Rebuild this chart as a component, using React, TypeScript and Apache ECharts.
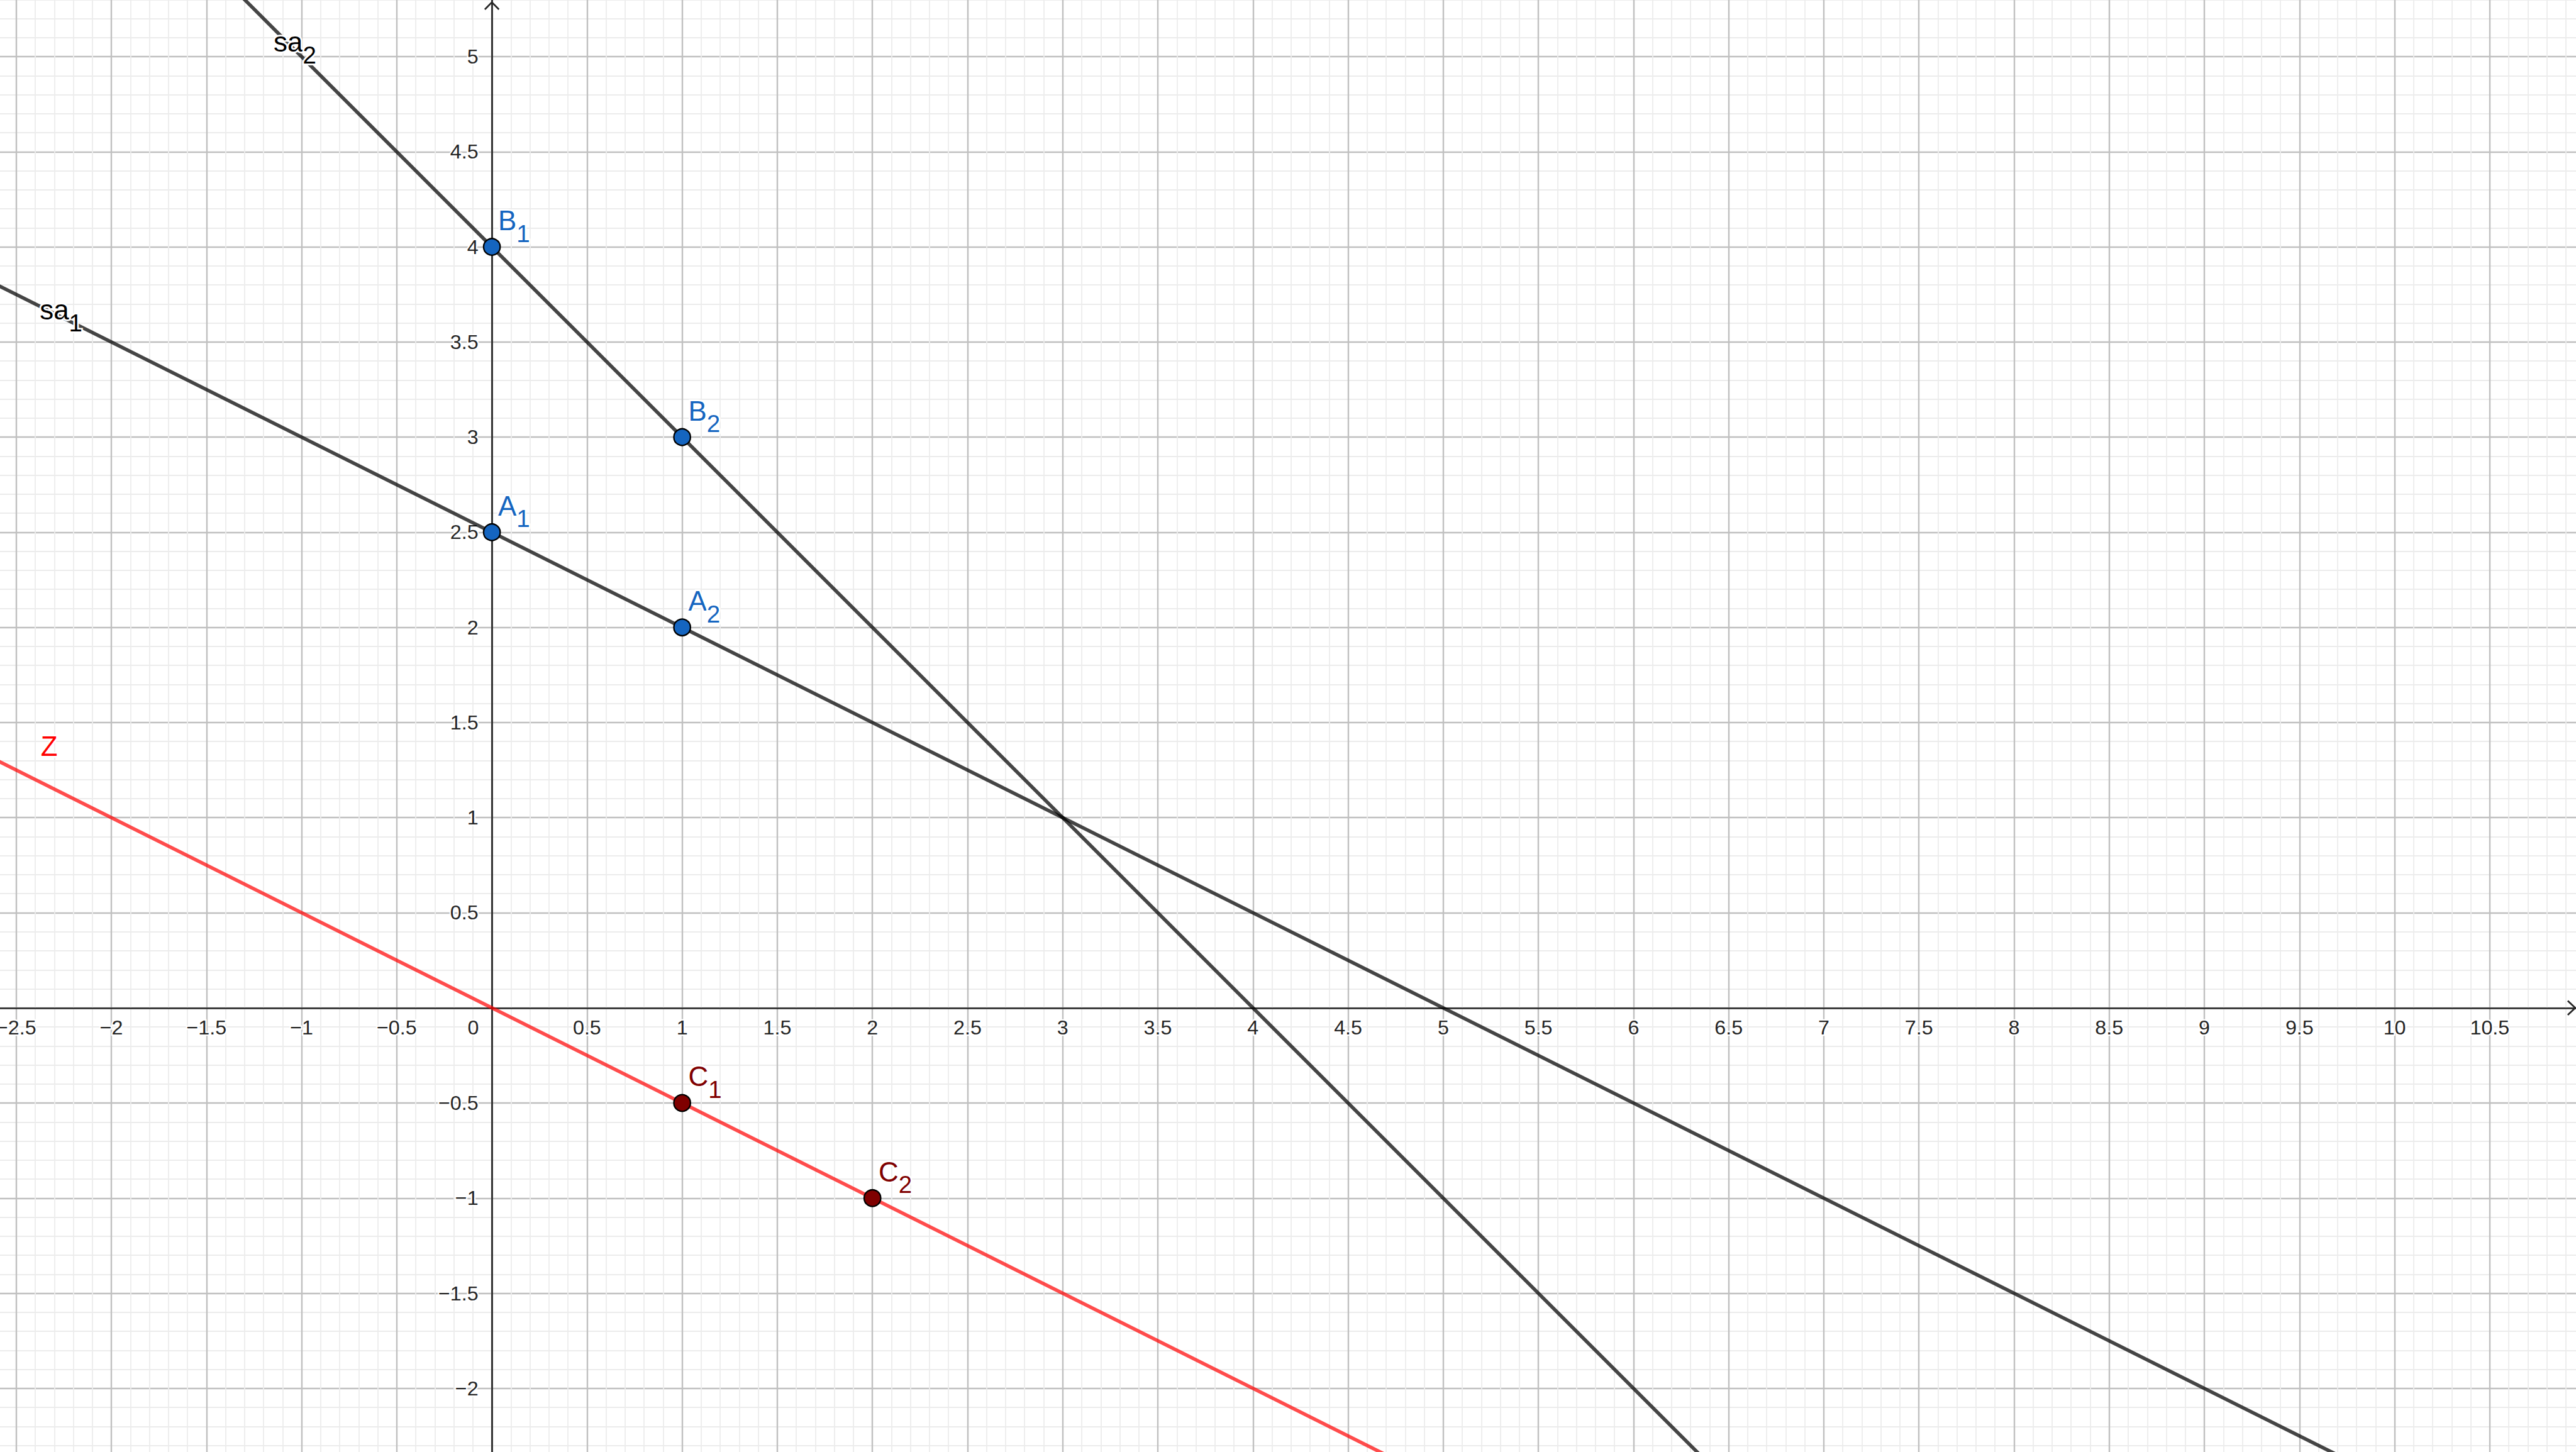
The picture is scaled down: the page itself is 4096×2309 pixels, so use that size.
import React, { useEffect, useRef } from 'react';
import * as echarts from 'echarts';

const W = 4096;
const H = 2309;

// axis extents (data units) and grid steps
const xRange = [-3, 11.5];
const yRange = [-2.5, 5.5];
const majorStep = 0.5;
const minorSplits = 5;
// range of tick labels that are shown
const xLabelRange = [-2.5, 10.5];
const yLabelRange = [-2, 5];

// lines (two end points each, in data units)
const lineSa1 = [[-3, 4], [10, -2.5]];
const lineSa2 = [[-1.5, 5.5], [6.5, -2.5]];
const lineZ = [[-3, 1.5], [5, -2.5]];

// points
const bluePoints = [[0, 2.5], [1, 2], [0, 4], [1, 3]];
const bluePointNames = [['A', '1'], ['A', '2'], ['B', '1'], ['B', '2']];
const redPoints = [[1, -0.5], [2, -1]];
const redPointNames = [['C', '1'], ['C', '2']];

// line name labels: [main, sub], anchor [x, baseline y]
const lineLabelText = [['sa', '1'], ['sa', '2'], ['Z', '']];
const lineLabelAnchor = [[-2.376, 3.619], [-1.147, 5.026], [-2.371, 1.3245]];

export default function App() {
  const ref = useRef<HTMLDivElement>(null);
  useEffect(() => {
    const el = ref.current!;
    const chart = echarts.init(el, null, { renderer: 'svg', width: W, height: H });
    const S = 0.8959;
    const FONT = '"Liberation Sans", Arial, sans-serif';
    const axisColor = '#252525';
    const U = 337.7 * S;
    const OX = 873 * S;
    const OY = 1789 * S;
    const fmt = (v: number) => String(Math.round(v * 100) / 100).replace('-', '\u2212');
    const labelFs = 36 * S;
    const inRange = (v: number, r: number[]) => v >= r[0] - 1e-9 && v <= r[1] + 1e-9;

    const option: any = {
      animation: false,
      backgroundColor: '#ffffff',
      grid: {
        left: OX + xRange[0] * U,
        right: W - (OX + xRange[1] * U),
        top: OY - yRange[1] * U,
        bottom: H - (OY - yRange[0] * U),
        containLabel: false,
        outerBoundsMode: 'none',
      },
      xAxis: {
        type: 'value',
        min: xRange[0],
        max: xRange[1],
        interval: majorStep,
        position: 'bottom',
        offset: yRange[0] * U,
        axisLine: { show: true, onZero: false, lineStyle: { color: axisColor, width: 3 * S } },
        axisTick: { show: false },
        minorTick: { show: false, splitNumber: minorSplits },
        splitLine: { show: true, lineStyle: { color: '#c0c0c0', width: 2.7 * S } },
        minorSplitLine: { show: true, lineStyle: { color: '#ececec', width: 2 * S } },
        axisLabel: {
          show: true,
          margin: 15,
          fontSize: labelFs,
          fontFamily: FONT,
          color: axisColor,
          textBorderColor: '#ffffff',
          textBorderWidth: 5 * S,
          hideOverlap: false,
          formatter: (v: number) => (!inRange(v, xLabelRange) ? '' : v === 0 ? '{z|0}' : fmt(v)),
          rich: {
            z: {
              fontSize: labelFs,
              fontFamily: FONT,
              color: axisColor,
              textBorderColor: '#ffffff',
              textBorderWidth: 5 * S,
              padding: [0, 66 * S, 0, 0],
            },
          },
        },
      },
      yAxis: {
        type: 'value',
        min: yRange[0],
        max: yRange[1],
        interval: majorStep,
        position: 'left',
        offset: xRange[0] * U,
        axisLine: { show: true, onZero: false, lineStyle: { color: axisColor, width: 3 * S } },
        axisTick: { show: false },
        minorTick: { show: false, splitNumber: minorSplits },
        splitLine: { show: true, lineStyle: { color: '#c0c0c0', width: 2.7 * S } },
        minorSplitLine: { show: true, lineStyle: { color: '#ececec', width: 2 * S } },
        axisLabel: {
          show: true,
          margin: 24 * S,
          fontSize: labelFs,
          fontFamily: FONT,
          color: axisColor,
          textBorderColor: '#ffffff',
          textBorderWidth: 5 * S,
          hideOverlap: false,
          formatter: (v: number) => (v === 0 || !inRange(v, yLabelRange) ? '' : fmt(v)),
        },
      },
      series: [
        { type: 'line', name: 'sa1', data: lineSa1, symbol: 'none', silent: true, z: 2,
          lineStyle: { color: 'rgba(0,0,0,0.73)', width: 6.3 * S } },
        { type: 'line', name: 'sa2', data: lineSa2, symbol: 'none', silent: true, z: 2,
          lineStyle: { color: 'rgba(0,0,0,0.73)', width: 6.3 * S } },
        { type: 'line', name: 'Z', data: lineZ, symbol: 'none', silent: true, z: 2,
          lineStyle: { color: 'rgba(255,0,0,0.7)', width: 6.3 * S } },
        { type: 'scatter', name: 'blue', data: bluePoints, symbol: 'circle', symbolSize: 29.5 * S, z: 3,
          itemStyle: { color: '#1565c0', borderColor: '#000000', borderWidth: 2.6 * S, opacity: 1 } },
        { type: 'scatter', name: 'red', data: redPoints, symbol: 'circle', symbolSize: 29.5 * S, z: 3,
          itemStyle: { color: '#7f0000', borderColor: '#000000', borderWidth: 2.6 * S, opacity: 1 } },
      ],
    };
    chart.setOption(option);

    const toPx = (p: number[]) => chart.convertToPixel({ xAxisIndex: 0, yAxisIndex: 0 }, p) as number[];
    const canvas = document.createElement('canvas');
    const ctx = canvas.getContext('2d')!;
    const measure = (t: string, fs: number) => {
      ctx.font = `${fs}px "Liberation Sans"`;
      return ctx.measureText(t).width;
    };
    const mainFs = 49 * S;
    const subFs = 43 * S;
    const CENTRAL = 0.3465;
    const graphics: any[] = [];
    const addText = (text: string, x: number, baseline: number, fs: number, fill: string) => {
      graphics.push({
        type: 'text',
        x,
        y: baseline - CENTRAL * fs,
        z: 100,
        silent: true,
        style: {
          text, fontSize: fs, fontFamily: FONT, fill,
          stroke: '#ffffff', lineWidth: 6 * S,
          align: 'left', verticalAlign: 'middle',
        },
      });
    };
    const addLabel = (main: string, sub: string, x: number, baseline: number, color: string) => {
      addText(main, x, baseline, mainFs, color);
      if (sub) addText(sub, x + measure(main, mainFs), baseline + 21 * S, subFs, color);
    };
    bluePoints.forEach((p, i) => {
      const [px, py] = toPx(p);
      addLabel(bluePointNames[i][0], bluePointNames[i][1], px + 11 * S, py - 30 * S, '#1565c0');
    });
    redPoints.forEach((p, i) => {
      const [px, py] = toPx(p);
      addLabel(redPointNames[i][0], redPointNames[i][1], px + 11 * S, py - 30 * S, '#7f0000');
    });
    lineLabelAnchor.forEach((p, i) => {
      const [px, py] = toPx(p);
      const color = lineLabelText[i][0] === 'Z' ? '#ff0000' : '#000000';
      addLabel(lineLabelText[i][0], lineLabelText[i][1], px, py, color);
    });
    // axis arrows
    const [ox, oy] = toPx([0, 0]);
    graphics.push({
      type: 'polyline', z: 100, silent: true,
      shape: { points: [[4557.3 * S, oy - 12.5 * S], [4570.7 * S, oy], [4557.3 * S, oy + 12.5 * S]] },
      style: { stroke: axisColor, lineWidth: 3 * S, fill: 'none' },
    });
    graphics.push({
      type: 'polyline', z: 100, silent: true,
      shape: { points: [[ox - 12.5 * S, 16.7 * S], [ox, 4 * S], [ox + 12.5 * S, 16.7 * S]] },
      style: { stroke: axisColor, lineWidth: 3 * S, fill: 'none' },
    });
    chart.setOption({ graphic: graphics });

    return () => chart.dispose();
  }, []);
  return <div ref={ref} style={{ position: 'absolute', left: 0, top: 0, width: W, height: H, background: '#fff' }} />;
}
